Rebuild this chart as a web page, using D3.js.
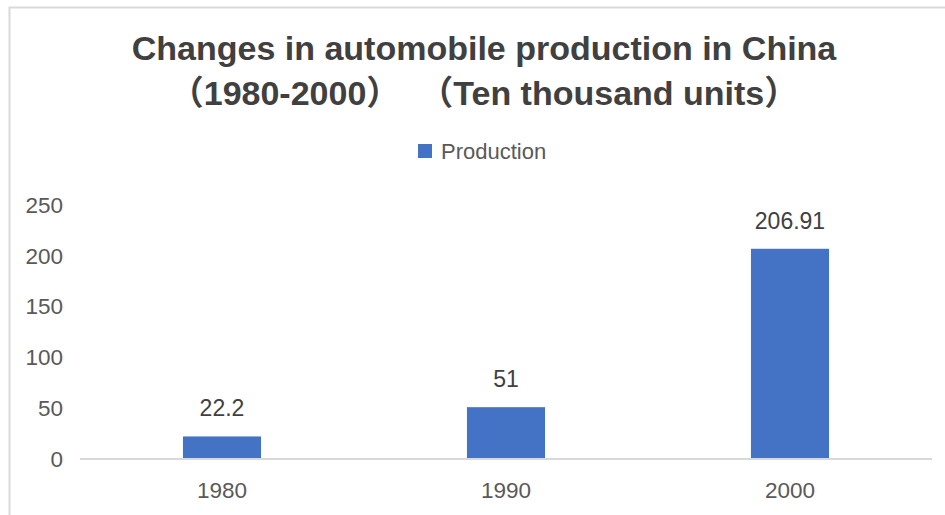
<!DOCTYPE html>
<html>
<head>
<meta charset="utf-8">
<script src="https://cdn.jsdelivr.net/npm/d3@7"></script>
<style>
  body { margin: 0; background: #fff; }
  svg { display: block; }
</style>
</head>
<body>
<div id="container"></div>
<script>
// chart data
const years = ["1980", "1990", "2000"];
const production = [22.2, 51, 206.91];
const yTicks = [0, 50, 100, 150, 200, 250];
const seriesName = "Production";
const titleLines = ["Changes in automobile production in China", "（1980-2000）  （Ten thousand units）"];

const width = 945;
const height = 515;
const font = "'Liberation Sans', Arial, 'Noto Sans CJK SC', sans-serif";

const svg = d3.select("#container")
    .append("svg")
    .attr("width", width)
    .attr("height", height);

// chart area border (left + top visible)
svg.append("path")
    .attr("d", `M9.5,${height} V7.5 H${width}`)
    .attr("fill", "none")
    .attr("stroke", "#d9d9d9")
    .attr("stroke-width", 2);

const x = d3.scaleBand()
    .domain(years)
    .range([80, 932])
    .paddingInner(0.725)
    .paddingOuter(0.3625);

const y = d3.scaleLinear()
    .domain([0, 250])
    .range([459, 205]);

// title
svg.append("text")
    .attr("text-anchor", "middle")
    .attr("font-family", font)
    .attr("font-weight", "bold")
    .attr("font-size", 34)
    .attr("fill", "#404040")
    .style("white-space", "pre")
    .selectAll("tspan")
    .data(titleLines)
    .join("tspan")
    .attr("x", 484)
    .attr("y", (d, i) => 60 + i * 45)
    .text(d => d);

// legend
const legend = svg.append("g").attr("transform", "translate(418,144)");
legend.append("rect")
    .attr("width", 14)
    .attr("height", 14)
    .attr("fill", "#4472c4");
legend.append("text")
    .attr("x", 23)
    .attr("y", 15)
    .attr("font-family", font)
    .attr("font-size", 22)
    .attr("fill", "#595959")
    .text(seriesName);

// y axis labels (no line, no ticks)
svg.append("g")
    .selectAll("text")
    .data(yTicks)
    .join("text")
    .attr("x", 63)
    .attr("y", d => y(d))
    .attr("dy", "0.35em")
    .attr("text-anchor", "end")
    .attr("font-family", font)
    .attr("font-size", 22.5)
    .attr("fill", "#595959")
    .text(d => d);

// bars
svg.append("g")
    .selectAll("rect")
    .data(production)
    .join("rect")
    .attr("x", (d, i) => x(years[i]))
    .attr("y", d => y(d))
    .attr("width", x.bandwidth())
    .attr("height", d => y(0) - y(d))
    .attr("fill", "#4472c4");

// baseline
svg.append("line")
    .attr("x1", 80)
    .attr("x2", 932)
    .attr("y1", y(0))
    .attr("y2", y(0))
    .attr("stroke", "#d9d9d9")
    .attr("stroke-width", 2);

// x axis labels
svg.append("g")
    .selectAll("text")
    .data(years)
    .join("text")
    .attr("x", d => x(d) + x.bandwidth() / 2)
    .attr("y", 498)
    .attr("text-anchor", "middle")
    .attr("font-family", font)
    .attr("font-size", 22.5)
    .attr("fill", "#595959")
    .text(d => d);

// data labels
svg.append("g")
    .selectAll("text")
    .data(production)
    .join("text")
    .attr("x", (d, i) => x(years[i]) + x.bandwidth() / 2)
    .attr("y", d => y(d) - 20)
    .attr("text-anchor", "middle")
    .attr("font-family", font)
    .attr("font-size", 23)
    .attr("fill", "#404040")
    .text(d => d);
</script>
</body>
</html>
